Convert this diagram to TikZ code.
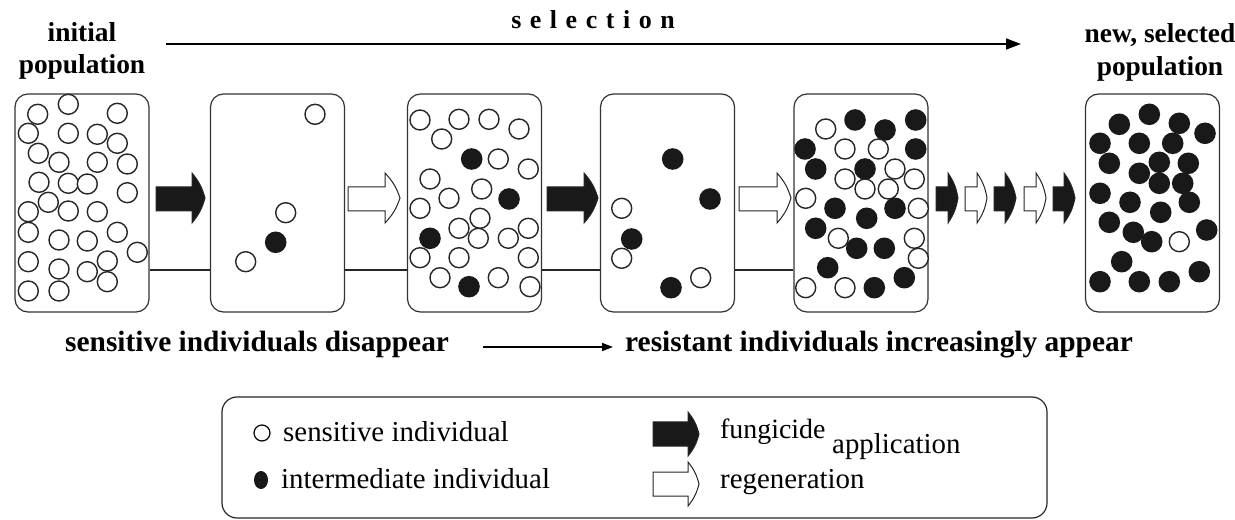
\documentclass[tikz,border=0pt]{standalone}
\usepackage{fontspec}
\setmainfont{Liberation Serif}
\usetikzlibrary{arrows.meta}
\newcommand\oc[2]{\draw[opencirc] (#1,#2) circle (10);}
\newcommand\bc[2]{\fill[blackcirc] (#1,#2) circle (10.8);}
% bigarrow: x start, head base x, tip x, fill colour
\newcommand\bigarrow[4]{\draw[arrowshape,fill=#4] (#1,187) -- (#2,187) -- (#2,173) to[bend left=12] (#3,198) to[bend left=12] (#2,223) -- (#2,211) -- (#1,211) -- cycle;}
\newcommand\legarrow[5]{\draw[arrowshape,fill=#4] (#1,#5-12) -- (#2,#5-12) -- (#2,#5-22) to[bend left=12] (#3,#5) to[bend left=12] (#2,#5+22) -- (#2,#5+12) -- (#1,#5+12) -- cycle;}
\begin{document}
\begin{tikzpicture}[x=1bp,y=-1bp,
  popbox/.style={draw=black!80,line width=1.2bp,rounded corners=13bp,minimum width=134bp,minimum height=218bp,inner sep=0pt},
  opencirc/.style={draw=black!85,line width=1.4bp,fill=white},
  blackcirc/.style={fill=black!90},
  arrowshape/.style={draw=black!85,line width=1bp,line join=miter},
  link/.style={line width=2.2bp,black!85},
  btitle/.style={font=\bfseries\fontsize{27.5}{30}\selectfont,anchor=base,inner sep=0pt},
  bline/.style={font=\bfseries\fontsize{29.5}{30}\selectfont,anchor=base west,inner sep=0pt},
  legtext/.style={font=\fontsize{29}{30}\selectfont,anchor=base west,inner sep=0pt}]
\useasboundingbox (0,0) rectangle (1235,520);
% titles
\node[btitle] (init1) at (82,42) {initial};
\node[btitle] (init2) at (82,74) {population};
\node[btitle] (new1) at (1160,43) {new, selected};
\node[btitle] (new2) at (1160,76) {population};
\node[btitle,font=\bfseries\fontsize{26}{28}\selectfont\addfontfeatures{LetterSpace=33}] (sel) at (593,29) {selection};
\coordinate (selA) at (166,44);
\coordinate (selB) at (1021,44);
\draw[line width=1.6bp,-{Triangle[length=15bp,width=11bp]}] (selA) -- (selB);
% boxes
\node[popbox] (b1) at (82,203) {};
\node[popbox] (b2) at (277.5,203) {};
\node[popbox] (b3) at (474.5,203) {};
\node[popbox] (b4) at (667.5,203) {};
\node[popbox] (b5) at (861,203) {};
\node[popbox] (b6) at (1152.5,203) {};
\coordinate (ly) at (0,270);
\draw[link] (b1.east |- ly) -- (b2.west |- ly);
\draw[link] (b2.east |- ly) -- (b3.west |- ly);
\draw[link] (b3.east |- ly) -- (b4.west |- ly);
\draw[link] (b4.east |- ly) -- (b5.west |- ly);
% arrows between boxes
\bigarrow{156}{192}{205}{black!90}
\bigarrow{348}{385}{400}{white}
\bigarrow{547}{584}{598}{black!90}
\bigarrow{739}{777}{791}{white}
\bigarrow{936}{948}{958}{black!90}
\bigarrow{965}{977}{987}{white}
\bigarrow{994}{1005}{1016}{black!90}
\bigarrow{1024}{1036}{1046}{white}
\bigarrow{1053}{1064}{1075}{black!90}
% box 1
\oc{37.7}{114.3}\oc{68.3}{104.3}\oc{117.3}{113.3}\oc{28.3}{133.3}\oc{68.3}{133.3}
\oc{97.3}{134.3}\oc{117.3}{143.3}\oc{38.3}{153.3}\oc{59}{162.3}\oc{97.3}{162.3}
\oc{127.3}{164}\oc{39}{182.3}\oc{68.3}{183.3}\oc{87.3}{184}\oc{127.3}{192.7}
\oc{48.3}{202.3}\oc{28.3}{211.7}\oc{68.3}{211}\oc{97.3}{211.7}\oc{117.3}{232.3}
\oc{28.3}{232.3}\oc{59}{240}\oc{87.3}{241}\oc{137.3}{252.3}\oc{28.3}{261.7}
\oc{59}{269}\oc{87.3}{271.7}\oc{107.3}{261}\oc{107.3}{281.7}\oc{28.3}{291}\oc{59}{291}
% box 2
\oc{315}{114.3}\oc{285.7}{212.7}\bc{275.7}{242.3}\oc{245.7}{261.7}
% box 3
\oc{420}{120}\oc{459}{119.3}\oc{489}{119.3}\oc{519}{129}\oc{441.7}{139}
\bc{471.7}{159}\oc{498.3}{159}\oc{528.3}{169}\oc{430}{179}\oc{481.7}{189}
\oc{449}{198.3}\bc{509}{199}\oc{420}{208.3}\oc{480}{218.3}\oc{459}{228.3}
\oc{528.3}{228.3}\bc{430}{238.3}\oc{478.3}{238.3}\oc{508.3}{238.3}\oc{420}{257.7}
\oc{459}{257.7}\oc{528.3}{257.7}\oc{440}{277.7}\oc{498.3}{277.7}\bc{469}{286.7}\oc{530}{286.7}
% box 4
\bc{672.7}{159}\bc{710}{199}\oc{621.7}{208.3}\bc{631.7}{239}\oc{621.7}{258.3}
\oc{700.7}{277.7}\bc{671}{287.7}
% box 5
\oc{825.7}{129}\bc{855}{120}\bc{885}{130}\bc{915.7}{120}\bc{805}{149}
\oc{845}{149}\oc{878.3}{149}\bc{915.7}{149}\bc{815.7}{169}\oc{895}{169}
\oc{845}{179}\bc{865}{169}\oc{865}{189}\oc{888.3}{189}\oc{914.3}{179}
\oc{805.7}{198.3}\bc{835}{208.3}\bc{895}{208.3}\oc{918.3}{208.3}\bc{866.7}{218.3}
\bc{815.7}{228.3}\oc{838.3}{238.3}\bc{856.7}{248.3}\bc{884.3}{248.3}\oc{914.3}{238.3}
\oc{918.3}{258.3}\bc{827.7}{267.7}\bc{904.3}{277.7}\oc{805.7}{287.7}\oc{845}{287.7}\bc{874.3}{287.7}
% box 6
\bc{1119.3}{124.3}\bc{1149.3}{114.3}\bc{1179.3}{123.3}\bc{1205}{133.3}\bc{1100}{143.3}
\bc{1139.3}{143.3}\bc{1172.7}{143.3}\bc{1109.3}{163.3}\bc{1159.3}{162.3}\bc{1188.3}{163.3}
\bc{1139.3}{173.3}\bc{1159.3}{183.3}\bc{1182.7}{183.3}\bc{1100}{193.3}\bc{1130}{202.3}
\bc{1189.3}{202.3}\bc{1160.7}{212.3}\bc{1109.3}{222.3}\bc{1206.7}{230}\bc{1133.3}{232.3}
\bc{1151.7}{241.7}\oc{1179.3}{241.7}\bc{1121.7}{261.7}\bc{1199.3}{271.7}\bc{1100}{281.7}
\bc{1139.3}{281.7}\bc{1169.3}{281.7}
% bottom texts
\node[bline] (sens) at (65,352) {sensitive individuals\ disappear};
\node[bline] (res) at (625,352) {resistant individuals\ increasingly\ appear};
\coordinate (midA) at (483,347);
\coordinate (midB) at (613,347);
\draw[line width=1.6bp,-{Triangle[length=11bp,width=8bp]}] (midA) -- (midB);
% legend
\node[draw=black!85,line width=1.2bp,rounded corners=15bp,minimum width=825bp,minimum height=121bp,inner sep=0pt] (leg) at (634.5,457.5) {};
\draw[line width=1.2bp] (262,433) circle (8);
\fill[black!90] (261,480) ellipse (7 and 9);
\node[legtext] (l1) at (283,441) {sensitive\ individual};
\node[legtext] (l2) at (281,488) {intermediate individual};
\legarrow{653}{688}{699}{black!90}{434}
\legarrow{653}{688}{699}{white}{484}
\node[legtext,font=\fontsize{28}{30}\selectfont] (l3) at (720,438) {fungicide};
\node[legtext] (l4) at (832,453) {application};
\node[legtext] (l5) at (720,488) {regeneration};
\end{tikzpicture}
\end{document}
